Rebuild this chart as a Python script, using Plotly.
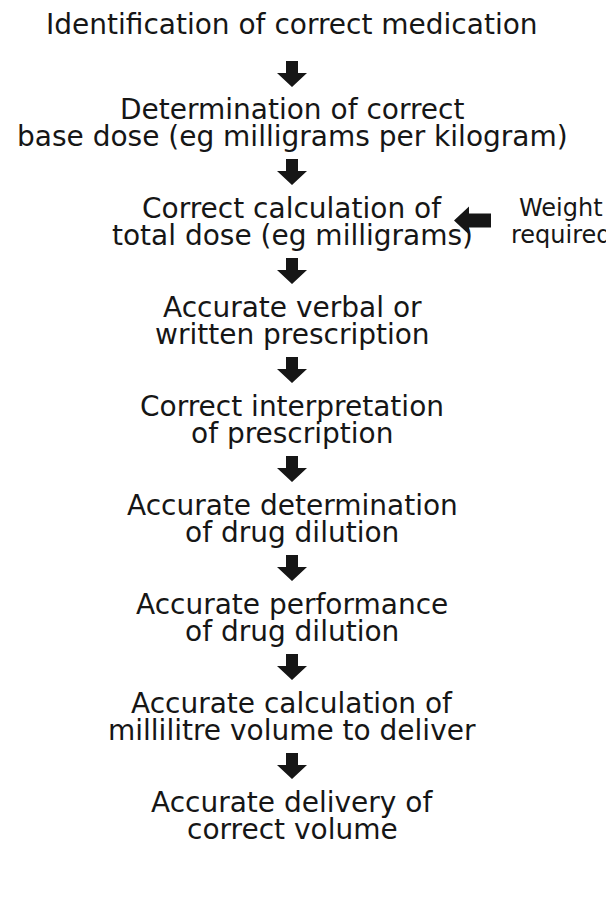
import plotly.graph_objects as go

# flowchart content
first_step = "Identification of correct medication"
step_line1 = [
    "Determination of correct",
    "Correct calculation of",
    "Accurate verbal or",
    "Correct interpretation",
    "Accurate determination",
    "Accurate performance",
    "Accurate calculation of",
    "Accurate delivery of",
]
step_line2 = [
    "base dose (eg milligrams per kilogram)",
    "total dose (eg milligrams)",
    "written prescription",
    "of prescription",
    "of drug dilution",
    "of drug dilution",
    "millilitre volume to deliver",
    "correct volume",
]
side_note = ["Weight", "required"]
side_step = 1  # index in step_line1 that the side note points at

W, H = 614, 905
FS = 28
SIDE_FS = 24
INK = "#161616"
FONT = "DejaVu Sans"
CX = 284          # column centre
SIDE_X = 553
FIRST_Y = 16.5
FIRST_GAP = 84.5  # first line -> first line of next block
GAP = 72          # last line of a block -> first line of next block
LINE = 27


def down_arrow(cx, top, shaft_w=12, head_w=30, shaft_h=12, head_h=14):
    s, h = shaft_w / 2, head_w / 2
    return (f"M{cx-s},{top} L{cx+s},{top} L{cx+s},{top+shaft_h} L{cx+h},{top+shaft_h} "
            f"L{cx},{top+shaft_h+head_h} L{cx-h},{top+shaft_h} L{cx-s},{top+shaft_h} Z")


def left_arrow(tip, cy, shaft_w=14, head_w=28, head_l=15, shaft_l=22):
    s, h = shaft_w / 2, head_w / 2
    x1 = tip + head_l
    x2 = x1 + shaft_l
    return (f"M{tip},{cy} L{x1},{cy-h} L{x1},{cy-s} L{x2},{cy-s} L{x2},{cy+s} "
            f"L{x1},{cy+s} L{x1},{cy+h} Z")


annotations = []
shapes = []


def add_text(txt, x, y, size=FS):
    annotations.append(dict(x=x, y=y, text=txt, showarrow=False,
                            xanchor="center", yanchor="middle", borderpad=0,
                            font=dict(family=FONT, size=size, color=INK)))


add_text(first_step, CX, FIRST_Y)
last_y = FIRST_Y
for i, (a, b) in enumerate(zip(step_line1, step_line2)):
    y1 = last_y + (FIRST_GAP if i == 0 else GAP)
    y2 = y1 + LINE
    arrow_top = last_y + (36.5 if i == 0 else 23)
    shapes.append(dict(type="path", path=down_arrow(CX, arrow_top),
                       fillcolor=INK, line=dict(width=0)))
    add_text(a, CX, y1)
    add_text(b, CX, y2)
    if i == side_step:
        add_text(side_note[0], SIDE_X, y1, SIDE_FS)
        add_text(side_note[1], SIDE_X, y2, SIDE_FS)
        shapes.append(dict(type="path", path=left_arrow(446, (y1 + y2) / 2 - 1),
                           fillcolor=INK, line=dict(width=0)))
    last_y = y2

fig = go.Figure()
fig.update_layout(
    width=W, height=H,
    margin=dict(l=0, r=0, t=0, b=0),
    paper_bgcolor="white", plot_bgcolor="white",
    xaxis=dict(range=[0, W], visible=False, fixedrange=True),
    yaxis=dict(range=[H, 0], visible=False, fixedrange=True),
    annotations=annotations,
    shapes=shapes,
    showlegend=False,
)
fig.write_html("out.html")
